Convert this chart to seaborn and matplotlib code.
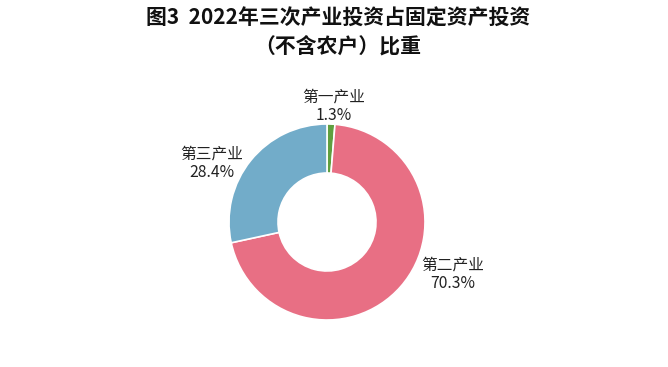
import matplotlib
matplotlib.use("Agg")
import matplotlib.pyplot as plt
import seaborn as sns
import numpy as np

categories = ["第一产业", "第二产业", "第三产业"]
values = [1.3, 70.3, 28.4]
colors = ["#5f9f3f", "#e86f84", "#72acc9"]
title = "图3  2022年三次产业投资占固定资产投资\n（不含农户）比重"

sns.set_theme(style="white")
plt.rcParams['font.family'] = ['Noto Sans CJK SC', 'DejaVu Sans']

W, H = 668, 367
fig = plt.figure(figsize=(W / 100, H / 100), dpi=100)
ax = fig.add_axes([0, 0, 1, 1])
cx, cy, R = 327, 222, 98

def to_data(px, py):
    return (px - cx) / R, (cy - py) / R

wedges, _ = ax.pie(values, colors=colors, startangle=90, counterclock=False,
                   radius=1, center=(0, 0), frame=True,
                   wedgeprops=dict(width=0.5, edgecolor="white", linewidth=1.2))
ax.set_xlim(-cx / R, (W - cx) / R)
ax.set_ylim((cy - H) / R, cy / R)
ax.set_aspect("auto")
ax.axis("off")

label_px = {"第一产业": (334, 106), "第二产业": (453, 274), "第三产业": (212, 163)}
for cat, val in zip(categories, values):
    x, y = to_data(*label_px[cat])
    ax.text(x, y, f"{cat}\n{val}%", ha="center", va="center", fontsize=11.3,
            linespacing=1.15, color="#222222")

fig.text(338 / W, 1 - 32 / H, title, ha="center", va="center", fontsize=15,
         fontweight="bold", linespacing=1.4, color="#111111")

fig.savefig("out.png", dpi=100, facecolor="white")
